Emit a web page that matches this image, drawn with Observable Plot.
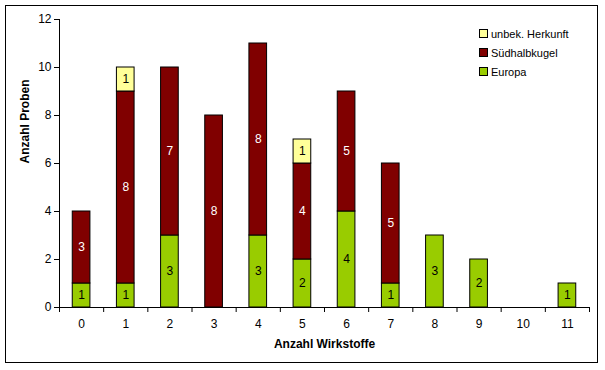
<!DOCTYPE html>
<html><head><meta charset="utf-8">
<script src="https://cdn.jsdelivr.net/npm/d3@7"></script>
<script src="https://cdn.jsdelivr.net/npm/@observablehq/plot@0.6"></script>
<style>
body{margin:0;background:#fff;font-family:"Liberation Sans",Arial,sans-serif;}
#wrap{position:relative;width:605px;height:370px;}
#border{position:absolute;left:5px;top:5px;width:591px;height:356px;border:1px solid #000;pointer-events:none;}
#legend{position:absolute;left:479px;top:24px;font-size:11px;}
#legend div{height:19px;display:flex;align-items:center;}
#legend span.sw{display:inline-block;width:7px;height:7px;border:1px solid #000;margin-right:3px;}
</style></head>
<body><div id="wrap"><div id="border"></div><div id="legend"></div></div>
<script>
const categories = [0,1,2,3,4,5,6,7,8,9,10,11];
const europa =       [1,1,3,0,3,2,4,1,3,2,0,1];
const suedhalbkugel =[3,8,7,8,8,4,5,5,0,0,0,0];
const unbekannt =    [0,1,0,0,0,1,0,0,0,0,0,0];
const seriesNames = ["Europa","Südhalbkugel","unbek. Herkunft"];
const seriesColors = ["#99CC00","#800000","#FFFF99"];
const labelColors = ["#000","#fff","#000"];
const yTicks = [0,2,4,6,8,10,12];
const xTitle = "Anzahl Wirkstoffe";
const yTitle = "Anzahl Proben";

const seriesValues = [europa, suedhalbkugel, unbekannt];
const rows = [];
categories.forEach((c, i) => {
  let acc = 0;
  seriesValues.forEach((vals, s) => {
    const v = vals[i];
    if (v > 0) rows.push({k: i, cat: c, s, value: v, y1: acc, y2: acc + v});
    acc += v;
  });
});

const chart = Plot.plot({
  width: 605, height: 370,
  marginLeft: 59, marginRight: 16, marginTop: 19, marginBottom: 63,
  style: {fontFamily: "Liberation Sans, Arial, sans-serif", fontSize: "11px", color: "#000", background: "transparent"},
  x: {domain: [0, categories.length], axis: null},
  y: {domain: [0, 12], axis: null},
  marks: [
    Plot.rect(rows, {x1: d => d.k + 0.3, x2: d => d.k + 0.7, y1: "y1", y2: "y2",
      fill: d => seriesColors[d.s], stroke: "#000", strokeWidth: 1}),
    Plot.text(rows, {x: d => d.k + 0.5, y: d => (d.y1 + d.y2) / 2, text: d => String(d.value),
      fill: d => labelColors[d.s], fontSize: 12}),
    Plot.ruleX([0], {stroke: "#000"}),
    Plot.ruleY([0], {stroke: "#000"}),
    Plot.axisY({ticks: yTicks, tickSize: 5, tickPadding: 3, label: null, fontSize: 12}),
    Plot.axisX({ticks: d3.range(categories.length + 1), tickSize: 5, tickFormat: () => "", label: null}),
    Plot.axisX({ticks: categories.map((c, i) => i + 0.5), tickSize: 0, tickPadding: 12,
      tickFormat: (d) => String(categories[Math.floor(d)]), label: null, fontSize: 12}),
    Plot.text([yTitle], {frameAnchor: "left", dx: -34, rotate: -90, text: d => d, fontWeight: "bold", fontSize: 12}),
    Plot.text([xTitle], {frameAnchor: "bottom", dy: 40, text: d => d, fontWeight: "bold", fontSize: 12})
  ]
});
document.getElementById("wrap").prepend(chart);

const legend = document.getElementById("legend");
[2,1,0].forEach(s => {
  const row = document.createElement("div");
  row.innerHTML = `<span class="sw" style="background:${seriesColors[s]}"></span>${seriesNames[s]}`;
  legend.appendChild(row);
});
</script>
</body></html>
